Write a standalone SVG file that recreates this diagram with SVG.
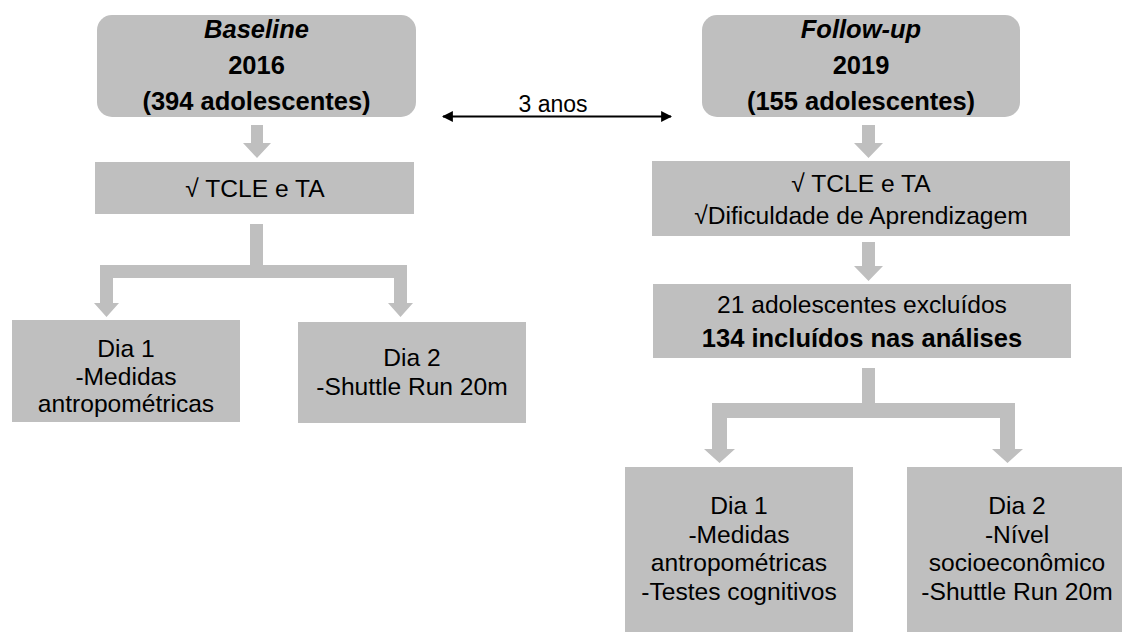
<svg xmlns="http://www.w3.org/2000/svg" width="1122" height="632" viewBox="0 0 1122 632">
<defs>
<style>
.box{fill:#bfbfbf;}
.arr{fill:#bfbfbf;}
text{font-family:"Liberation Sans",Arial,sans-serif;fill:#000;text-anchor:middle;}
.t{font-size:24.6px;}
.b{font-size:25.5px;font-weight:bold;}
.bi{font-size:25.5px;font-weight:bold;font-style:italic;}
.s{font-size:23px;}
</style>
<marker id="ah" viewBox="0 0 10 10" refX="9" refY="5" markerWidth="5.5" markerHeight="5.5" orient="auto-start-reverse">
<path d="M0,0 L10,5 L0,10 Z" fill="#000"/>
</marker>
</defs>
<rect width="1122" height="632" fill="#fff"/>

<g id="connectors">
<path class="arr" d="M251,125 H263 V143 H271 L257,158 L243,143 H251 Z"/>
<path class="arr" d="M250,224 H263 V265 H407 V303 H413 L400.5,317 L388,303 H394 V278 H113 V303 H119 L106.5,317 L94,303 H100 V265 H250 Z"/>
<path class="arr" d="M862,125 H875 V143 H883 L868.5,158 L854,143 H862 Z"/>
<path class="arr" d="M862,242 H875 V266 H883 L868.5,281 L854,266 H862 Z"/>
<path class="arr" d="M862,368 H875 V403 H1015 V449 H1023 L1007.5,463 L992,449 H1000 V418 H727 V449 H735 L719.5,463 L704,449 H712 V403 H862 Z"/>
<line x1="443" y1="116.5" x2="671" y2="116.5" stroke="#000" stroke-width="2" marker-start="url(#ah)" marker-end="url(#ah)"/>
<text class="s" x="553" y="112">3 anos</text>
</g>

<g id="baseline">
<rect class="box" x="97" y="15" width="319" height="102" rx="15"/>
<text class="bi" x="256.5" y="38">Baseline</text>
<text class="b" x="256.5" y="74">2016</text>
<text class="b" x="256.5" y="110">(394 adolescentes)</text>
</g>

<g id="tcle-left">
<rect class="box" x="95" y="162" width="319" height="52"/>
<text class="t" x="255" y="197">√ TCLE e TA</text>
</g>

<g id="dia1-left">
<rect class="box" x="12" y="320" width="228" height="102"/>
<text class="t" x="126" y="357">Dia 1</text>
<text class="t" x="126" y="384.5">-Medidas</text>
<text class="t" x="126" y="412">antropométricas</text>
</g>

<g id="dia2-left">
<rect class="box" x="298" y="322" width="228" height="101"/>
<text class="t" x="412" y="366">Dia 2</text>
<text class="t" x="412" y="395">-Shuttle Run 20m</text>
</g>

<g id="followup">
<rect class="box" x="702" y="15" width="318" height="102" rx="15"/>
<text class="bi" x="861" y="38">Follow-up</text>
<text class="b" x="861" y="74">2019</text>
<text class="b" x="861" y="110">(155 adolescentes)</text>
</g>

<g id="tcle-right">
<rect class="box" x="652" y="161" width="418" height="75"/>
<text class="t" x="861" y="192">√ TCLE e TA</text>
<text class="t" x="861" y="224">√Dificuldade de Aprendizagem</text>
</g>

<g id="excluidos">
<rect class="box" x="653" y="284" width="418" height="74"/>
<text class="t" x="862" y="313">21 adolescentes excluídos</text>
<text class="b" x="862" y="347">134 incluídos nas análises</text>
</g>

<g id="dia1-right">
<rect class="box" x="625" y="467" width="228" height="175"/>
<text class="t" x="739" y="514">Dia 1</text>
<text class="t" x="739" y="543">-Medidas</text>
<text class="t" x="739" y="571">antropométricas</text>
<text class="t" x="739" y="600">-Testes cognitivos</text>
</g>

<g id="dia2-right">
<rect class="box" x="907" y="467" width="225" height="175"/>
<text class="t" x="1017" y="514">Dia 2</text>
<text class="t" x="1017" y="543">-Nível</text>
<text class="t" x="1017" y="571">socioeconômico</text>
<text class="t" x="1017" y="600">-Shuttle Run 20m</text>
</g>
</svg>
